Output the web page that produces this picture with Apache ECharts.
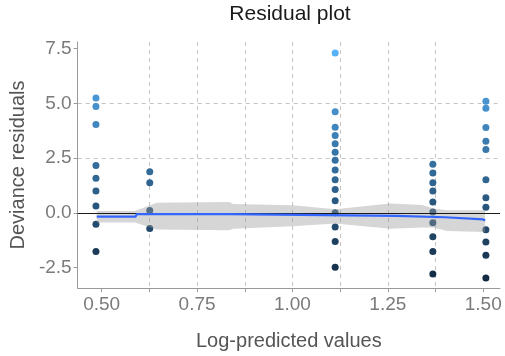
<!DOCTYPE html>
<html>
<head>
<meta charset="utf-8">
<script src="https://cdn.jsdelivr.net/npm/echarts@6/dist/echarts.min.js"></script>
<style>html,body{margin:0;padding:0;background:#fff;}#c{width:505px;height:356px;}</style>
</head>
<body>
<div id="c"></div>
<script>
// Log-predicted value of each group of points
var clusterX = [0.485, 0.626, 1.112, 1.368, 1.507];
// Deviance residuals per group
var res1 = [5.24, 4.85, 4.03, 2.16, 1.58, 1.00, 0.31, -0.52, -1.76];
var res2 = [1.88, 1.38, 0.11, -0.71];
var res3 = [7.30, 4.62, 3.91, 3.53, 3.15, 2.77, 2.40, 1.96, 1.51, 1.07, 0.55, 0.01, -0.64, -1.31, -2.48];
var res4 = [2.22, 1.82, 1.38, 1.00, 0.50, 0.04, -0.45, -1.09, -1.76, -2.79];
var res5 = [5.09, 4.77, 3.90, 3.27, 2.89, 1.51, 0.69, 0.26, -0.77, -1.33, -1.94, -2.97];
var residualGroups = [res1, res2, res3, res4, res5];

// Smoother fit
var smoothX = [0.487, 0.589, 0.592, 0.834, 0.837, 1.272, 1.275, 1.400, 1.403, 1.500, 1.505];
var smoothFit = [-0.17, -0.17, -0.06, -0.06, -0.14, -0.14, -0.20, -0.20, -0.29, -0.30, -0.35];

// Confidence band
var bandX = [0.487, 0.587, 0.644, 0.834, 0.845, 1.000, 1.112, 1.256, 1.340, 1.369, 1.406, 1.505];
var bandUpper = [0.09, 0.09, 0.46, 0.50, 0.40, 0.35, 0.16, 0.43, 0.36, 0.20, 0.12, 0.12];
var bandLower = [-0.44, -0.44, -0.76, -0.79, -0.72, -0.61, -0.49, -0.72, -0.67, -0.67, -0.83, -0.87];

// Ticks
var xTicks = [0.5, 0.625, 0.75, 0.875, 1.0, 1.125, 1.25, 1.375, 1.5];
var xLabels = [0.5, 0.75, 1.0, 1.25, 1.5];
var yTicks = [-2.5, 0, 2.5, 5, 7.5];

var scatterData = [];
residualGroups.forEach(function (g, i) {
  g.forEach(function (r) { scatterData.push([clusterX[i], r]); });
});
var smoothData = smoothX.map(function (x, i) { return [x, smoothFit[i]]; });

var FONT = '"Liberation Sans", Arial, sans-serif';
var gridLine = { show: true, showMinLine: false, showMaxLine: false,
  lineStyle: { color: '#c4c4c4', type: [4, 4], width: 1 } };

var chart = echarts.init(document.getElementById('c'), null, { renderer: 'canvas' });
chart.setOption({
  animation: false,
  backgroundColor: '#ffffff',
  title: {
    text: 'Residual plot', left: 290, top: 4, padding: 0, textAlign: 'center',
    textStyle: { fontFamily: FONT, fontSize: 21, fontWeight: 'normal', color: '#1a1a1a' }
  },
  grid: { left: 76, right: 5, top: 42, bottom: 68, containLabel: false },
  xAxis: {
    type: 'value', min: 0.437, max: 1.544, minInterval: 0.125, maxInterval: 0.125,
    name: 'Log-predicted values', nameLocation: 'middle', nameGap: 43,
    nameTextStyle: { fontFamily: FONT, fontSize: 20, color: '#555' },
    axisLine: { show: true, onZero: false, lineStyle: { color: '#9a9a9a', width: 1 } },
    axisTick: { show: true, length: 4, customValues: xTicks, lineStyle: { color: '#9a9a9a' } },
    axisLabel: { customValues: xLabels, margin: 7, fontFamily: FONT, fontSize: 19, color: '#7a7a7a',
      formatter: function (v) {
        return Math.abs(v * 4 - Math.round(v * 4)) < 1e-6 ? Number(v).toFixed(2) : '';
      } },
    splitLine: gridLine
  },
  yAxis: {
    type: 'value', min: -3.43, max: 7.8, minInterval: 2.5, maxInterval: 2.5,
    name: 'Deviance residuals', nameLocation: 'middle', nameGap: 45,
    nameTextStyle: { fontFamily: FONT, fontSize: 20, color: '#555' },
    axisLine: { show: true, onZero: false, lineStyle: { color: '#9a9a9a', width: 1 } },
    axisTick: { show: true, length: 4, customValues: yTicks, lineStyle: { color: '#9a9a9a' } },
    axisLabel: { customValues: yTicks, margin: 6, fontFamily: FONT, fontSize: 19, color: '#7a7a7a',
      formatter: function (v) {
        return Math.abs(v / 2.5 - Math.round(v / 2.5)) < 1e-6 ? Number(v).toFixed(1) : '';
      } },
    splitLine: gridLine
  },
  visualMap: {
    type: 'continuous', show: false, seriesIndex: 0, dimension: 1,
    min: -3, max: 7.3, inRange: { color: ['#132B43', '#56B1F7'] }
  },
  series: [
    {
      type: 'scatter', data: scatterData, symbolSize: 7, z: 2,
      itemStyle: { opacity: 1 }
    },
    {
      type: 'custom', z: 3, silent: true,
      data: [[bandX[0], 0]],
      renderItem: function (params, api) {
        var pts = [];
        for (var i = 0; i < bandX.length; i++) pts.push(api.coord([bandX[i], bandUpper[i]]));
        for (var j = bandX.length - 1; j >= 0; j--) pts.push(api.coord([bandX[j], bandLower[j]]));
        return { type: 'polygon', shape: { points: pts }, style: { fill: 'rgba(153,153,153,0.4)' } };
      }
    },
    {
      type: 'line', data: smoothData, z: 5, symbol: 'none', silent: true,
      lineStyle: { color: '#3366FF', width: 2.2 },
      markLine: {
        silent: true, symbol: 'none', label: { show: false },
        lineStyle: { color: '#1a1a1a', width: 1.2, type: 'solid' },
        data: [{ yAxis: 0 }]
      }
    }
  ]
});
</script>
</body>
</html>
